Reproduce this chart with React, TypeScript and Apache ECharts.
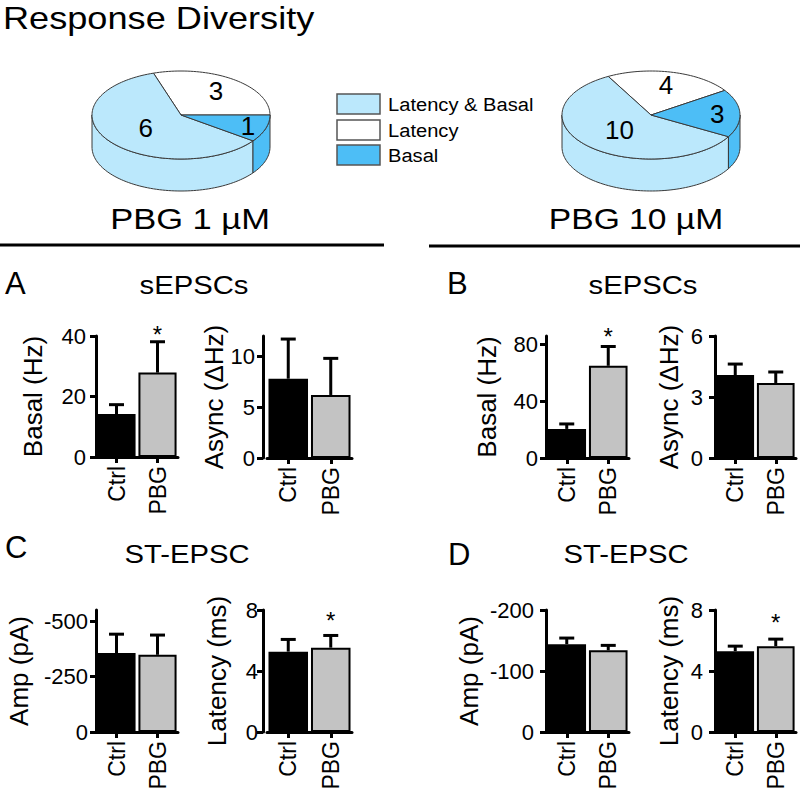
import React, { useEffect, useRef } from "react";
import * as echarts from "echarts";

const FONT = "'Liberation Sans', Arial, Helvetica, sans-serif";

// ---------- data ----------
const pieCategories = ["Latency & Basal", "Latency", "Basal"];
const pie1Counts = [6, 3, 1];
const pie2Counts = [10, 4, 3];
const pieTitles = ["PBG 1 µM", "PBG 10 µM"];

const groups = ["Ctrl", "PBG"];

const aBasalMean = [14.2, 27.9];
const aBasalSem = [3.1, 10.2];
const aBasalStar = [null, 42];
const aBasalTicks = [0, 20, 40];

const aAsyncMean = [7.8, 6.2];
const aAsyncSem = [3.9, 3.6];
const aAsyncStar = [null, null];
const aAsyncTicks = [0, 5, 10];

const bBasalMean = [20.5, 65];
const bBasalSem = [3.5, 13.6];
const bBasalStar = [null, 89];
const bBasalTicks = [0, 40, 80];

const bAsyncMean = [4.08, 3.69];
const bAsyncSem = [0.54, 0.54];
const bAsyncStar = [null, null];
const bAsyncTicks = [0, 3, 6];

const cAmpMean = [356, 348];
const cAmpSem = [85, 89];
const cAmpStar = [null, null];
const cAmpTicks = [0, 250, 500];

const cLatMean = [5.27, 5.53];
const cLatSem = [0.8, 0.8];
const cLatStar = [null, 7.67];
const cLatTicks = [0, 4, 8];

const dAmpMean = [144, 134];
const dAmpSem = [10, 8];
const dAmpStar = [null, null];
const dAmpTicks = [0, 100, 200];

const dLatMean = [5.3, 5.63];
const dLatSem = [0.33, 0.46];
const dLatStar = [null, 7.48];
const dLatTicks = [0, 4, 8];

const panels = [
  { mean: aBasalMean, sem: aBasalSem, star: aBasalStar, ticks: aBasalTicks, max: 40, name: "Basal (Hz)", neg: false },
  { mean: aAsyncMean, sem: aAsyncSem, star: aAsyncStar, ticks: aAsyncTicks, max: 12, name: "Async (ΔHz)", neg: false },
  { mean: bBasalMean, sem: bBasalSem, star: bBasalStar, ticks: bBasalTicks, max: 86, name: "Basal (Hz)", neg: false },
  { mean: bAsyncMean, sem: bAsyncSem, star: bAsyncStar, ticks: bAsyncTicks, max: 6, name: "Async (ΔHz)", neg: false },
  { mean: cAmpMean, sem: cAmpSem, star: cAmpStar, ticks: cAmpTicks, max: 550, name: "Amp (pA)", neg: true },
  { mean: cLatMean, sem: cLatSem, star: cLatStar, ticks: cLatTicks, max: 8, name: "Latency (ms)", neg: false },
  { mean: dAmpMean, sem: dAmpSem, star: dAmpStar, ticks: dAmpTicks, max: 200, name: "Amp (pA)", neg: true },
  { mean: dLatMean, sem: dLatSem, star: dLatStar, ticks: dLatTicks, max: 8, name: "Latency (ms)", neg: false },
];

// ---------- layout / style ----------
const layouts = [
  { left: 96, top: 336, width: 82, height: 121, offset: 0, nameGap: 50, margin: 10 },
  { left: 267, top: 336, width: 85, height: 122, offset: 4, nameGap: 36, margin: 8 },
  { left: 546, top: 336, width: 83, height: 122, offset: 0, nameGap: 46, margin: 8 },
  { left: 715, top: 336, width: 81, height: 122, offset: 0, nameGap: 33, margin: 12 },
  { left: 96, top: 610, width: 82, height: 122, offset: 0, nameGap: 64, margin: 8 },
  { left: 267, top: 610, width: 85, height: 122, offset: 4, nameGap: 33, margin: 5 },
  { left: 546, top: 610, width: 83, height: 122, offset: 0, nameGap: 64, margin: 12 },
  { left: 715, top: 610, width: 81, height: 122, offset: 0, nameGap: 33, margin: 12 },
];

const PIE_COLORS = ["#bbe8fc", "#ffffff", "#4dbef6"];
const PIE_STROKE = "#3a3a3a";
const PIE_ORDER = [1, 0, 2];
const RX = 89;
const RY = 44;
const DEPTH = 32;
const BAR_COLORS = ["#000000", "#c3c3c3"];

function pieSeries(counts: number[], cx: number, cy: number, startDeg: number) {
  const ordered = PIE_ORDER.map((i) => counts[i]);
  const total = ordered.reduce((a, b) => a + b, 0);
  return {
    type: "custom",
    coordinateSystem: "none",
    silent: true,
    data: PIE_ORDER.map((i) => ({ name: pieCategories[i], value: [counts[i]] })),
    renderItem: (params: any, api: any) => {
      const idx = params.dataIndex;
      const v = api.value(0);
      let before = 0;
      for (let j = 0; j < idx; j++) before += ordered[j];
      const a1 = startDeg + (before / total) * 360;
      const a2 = a1 + (v / total) * 360;
      const color = PIE_COLORS[PIE_ORDER[idx]];
      const pt = (a: number, dy = 0, f = 1) => {
        const r = (a * Math.PI) / 180;
        return [cx + f * RX * Math.cos(r), cy - f * RY * Math.sin(r) + dy];
      };
      const arc = (s: number, e: number, dy = 0) => {
        const n = Math.max(2, Math.ceil(Math.abs(e - s) / 2));
        const pts: number[][] = [];
        for (let k = 0; k <= n; k++) pts.push(pt(s + ((e - s) * k) / n, dy));
        return pts;
      };
      const children: any[] = [];
      for (const k of [-1, 0, 1]) {
        const s = Math.max(a1, 180 + 360 * k);
        const e = Math.min(a2, 360 + 360 * k);
        if (e > s) {
          children.push({
            type: "polygon",
            shape: { points: [...arc(s, e), ...arc(e, s, DEPTH)] },
            style: { fill: color, stroke: PIE_STROKE, lineWidth: 1 },
          });
        }
      }
      children.push({
        type: "polygon",
        shape: { points: [[cx, cy], ...arc(a1, a2)] },
        style: { fill: color, stroke: PIE_STROKE, lineWidth: 1 },
      });
      const frac = v / total;
      const lp = pt((a1 + a2) / 2, 0, 0.85 - 0.6 * frac);
      children.push({
        type: "text",
        x: lp[0],
        y: lp[1],
        style: {
          text: String(v),
          fontSize: 26,
          fontFamily: FONT,
          fill: "#000",
          textAlign: "center",
          textVerticalAlign: "middle",
        },
      });
      return { type: "group", children };
    },
  };
}

function txt(text: string, x: number, y: number, fontSize: number, align: string, scaleX = 1) {
  return {
    type: "text",
    x,
    y,
    scaleX,
    silent: true,
    style: {
      text,
      fontSize,
      fontFamily: FONT,
      fill: "#000",
      textAlign: align,
      textVerticalAlign: "middle",
    },
  };
}

export default function App() {
  const ref = useRef<HTMLDivElement>(null);
  useEffect(() => {
    if (!ref.current) return;
    const chart = echarts.init(ref.current, undefined, { renderer: "svg" });

    const graphic: any[] = [];
    graphic.push(txt("Response Diversity", 3, 18, 32, "left", 1.13));
    // legend
    const legendY = [94, 120, 145];
    pieCategories.forEach((c, i) => {
      graphic.push({
        type: "rect",
        shape: { x: 337, y: legendY[i], width: 43, height: 20 },
        style: { fill: PIE_COLORS[i], stroke: "#555", lineWidth: 1.5 },
        silent: true,
      });
      graphic.push(txt(c, 388, legendY[i] + 10, 19, "left", 1.06));
    });
    // pie titles and lines
    graphic.push(txt(pieTitles[0], 190, 219, 30, "center", 1.15));
    graphic.push(txt(pieTitles[1], 636, 219, 30, "center", 1.12));
    graphic.push({ type: "line", shape: { x1: 0, y1: 245, x2: 384, y2: 245 }, style: { stroke: "#000", lineWidth: 3 }, silent: true });
    graphic.push({ type: "line", shape: { x1: 429, y1: 246, x2: 800, y2: 246 }, style: { stroke: "#000", lineWidth: 3 }, silent: true });
    // panel letters & titles
    graphic.push(txt("A", 5, 283.5, 31, "left"));
    graphic.push(txt("sEPSCs", 194, 285, 25, "center", 1.17));
    graphic.push(txt("B", 447, 283.5, 31, "left"));
    graphic.push(txt("sEPSCs", 643, 285.5, 25, "center", 1.17));
    graphic.push(txt("C", 5, 547, 31, "left"));
    graphic.push(txt("ST-EPSC", 187, 554, 25, "center", 1.17));
    graphic.push(txt("D", 448, 554, 31, "left"));
    graphic.push(txt("ST-EPSC", 626, 554, 25, "center", 1.17));

    const series: any[] = [pieSeries(pie1Counts, 181, 115, 0), pieSeries(pie2Counts, 651, 115, 34)];
    panels.forEach((p, i) => {
      series.push({
        type: "bar",
        xAxisIndex: i,
        yAxisIndex: i,
        barWidth: "93%",
        silent: true,
        data: p.mean.map((v, j) => ({
          value: v,
          itemStyle: j === 0 ? { color: BAR_COLORS[0] } : { color: BAR_COLORS[1], borderColor: "#000", borderWidth: 2 },
        })),
      });
      series.push({
        type: "custom",
        xAxisIndex: i,
        yAxisIndex: i,
        silent: true,
        z: 5,
        data: p.mean.map((v, j) => [j, v, p.sem[j], p.star[j] == null ? "-" : p.star[j]]),
        renderItem: (params: any, api: any) => {
          const x = api.value(0);
          const m = api.value(1);
          const e = api.value(2);
          const s = api.value(3);
          const p0 = api.coord([x, m]);
          const p1 = api.coord([x, m + e]);
          const children: any[] = [
            { type: "line", shape: { x1: p0[0], y1: p0[1], x2: p1[0], y2: p1[1] }, style: { stroke: "#000", lineWidth: 3 } },
            { type: "line", shape: { x1: p1[0] - 7.5, y1: p1[1], x2: p1[0] + 7.5, y2: p1[1] }, style: { stroke: "#000", lineWidth: 3 } },
          ];
          if (typeof s === "number" && !isNaN(s)) {
            const ps = api.coord([x, s]);
            children.push({
              type: "text",
              x: ps[0],
              y: ps[1] + 5,
              style: { text: "*", fontSize: 24, fontFamily: FONT, fill: "#000", textAlign: "center", textVerticalAlign: "middle" },
            });
          }
          return { type: "group", children };
        },
      });
    });

    chart.setOption({
      animation: false,
      textStyle: { fontFamily: FONT },
      graphic,
      grid: layouts.map((l) => ({ left: l.left, top: l.top, width: l.width, height: l.height })),
      xAxis: layouts.map((l, i) => ({
        gridIndex: i,
        type: "category",
        data: groups,
        axisLine: { show: true, lineStyle: { color: "#000", width: 3 } },
        axisTick: { show: true, alignWithLabel: true, length: 6, lineStyle: { color: "#000", width: 3 } },
        axisLabel: { rotate: 90, margin: 9, fontSize: 23, color: "#000", fontFamily: FONT },
        splitLine: { show: false },
      })),
      yAxis: panels.map((p, i) => ({
        gridIndex: i,
        type: "value",
        min: 0,
        max: p.max,
        offset: layouts[i].offset,
        name: p.name,
        nameLocation: "middle",
        nameRotate: 90,
        nameGap: layouts[i].nameGap,
        nameTextStyle: { fontSize: 26, color: "#000", fontFamily: FONT },
        axisLine: { show: true, lineStyle: { color: "#000", width: 3 } },
        axisTick: { show: true, length: 6, lineStyle: { color: "#000", width: 3 }, customValues: p.ticks },
        axisLabel: {
          customValues: p.ticks,
          fontSize: 22,
          color: "#000",
          fontFamily: FONT,
          margin: layouts[i].margin,
          formatter: (v: number) => (p.neg && v !== 0 ? "-" + v : String(v)),
        },
        splitLine: { show: false },
      })),
      series,
    });
    return () => chart.dispose();
  }, []);
  return <div ref={ref} style={{ position: "fixed", left: 0, top: 0, width: 800, height: 793, background: "#fff" }} />;
}
